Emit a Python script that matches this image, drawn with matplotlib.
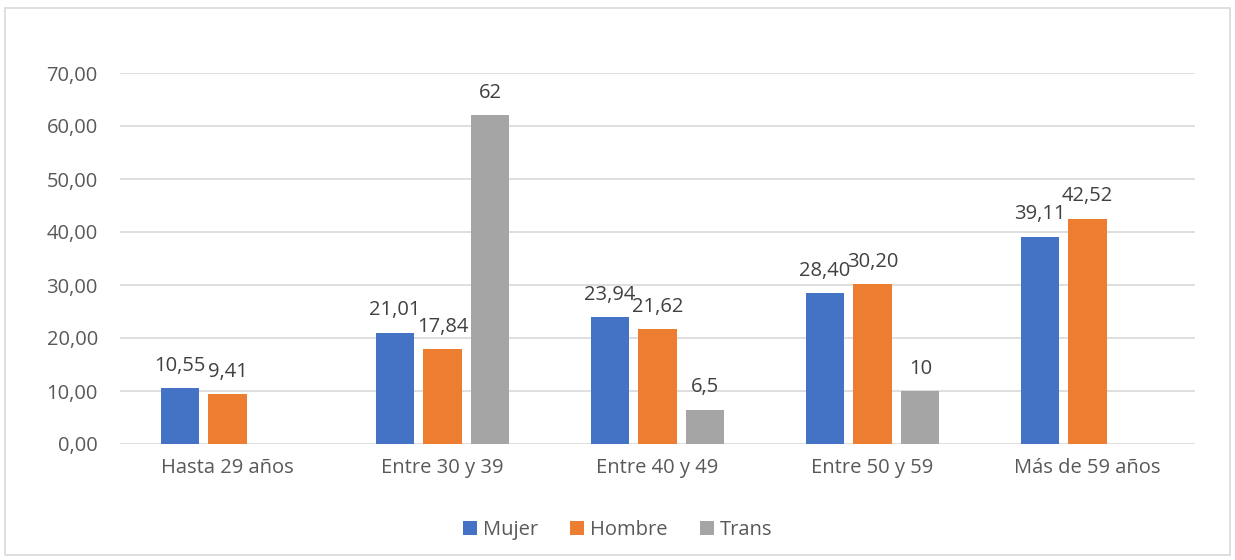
import matplotlib.pyplot as plt
import numpy as np
from matplotlib.patches import Rectangle

categorias = ['Hasta 29 años', 'Entre 30 y 39', 'Entre 40 y 49', 'Entre 50 y 59', 'Más de 59 años']
mujer = [10.55, 21.01, 23.94, 28.40, 39.11]
hombre = [9.41, 17.84, 21.62, 30.20, 42.52]
trans = [np.nan, 62, 6.5, 10, np.nan]
trans_etiquetas = ['', '62', '6,5', '10', '']
series = ['Mujer', 'Hombre', 'Trans']
colores = ['#4472C4', '#ED7D31', '#A5A5A5']

plt.rcParams['font.family'] = ['Open Sans', 'DejaVu Sans']
fs = 14.5

fig = plt.figure(figsize=(12.35, 5.6), dpi=100)
ax = fig.add_axes([120 / 1235, 1 - 444 / 560, 1075 / 1235, 371 / 560])

# borde del gráfico
fig.patches.append(Rectangle((5 / 1235, 1 - 555 / 560), 1225 / 1235, 547 / 560,
                             transform=fig.transFigure, fill=False,
                             edgecolor='#D9D9D9', linewidth=1.2))

x = np.arange(len(categorias))
paso = 0.223
ancho = 0.177
valores = [mujer, hombre, trans]
for i, (nombre, vals, col) in enumerate(zip(series, valores, colores)):
    pos = x + (i - 1) * paso
    ax.bar(pos, vals, ancho, color=col, label=nombre, zorder=3)
    for j, v in enumerate(vals):
        if np.isnan(v):
            continue
        if nombre == 'Trans':
            txt = trans_etiquetas[j]
        else:
            txt = ('%.2f' % v).replace('.', ',')
        ax.annotate(txt, (pos[j], v), xytext=(0, 12.5), textcoords='offset points',
                    ha='center', va='baseline', fontsize=fs, color='#404040')

ax.set_xlim(-0.5, len(categorias) - 0.5)
ax.set_ylim(0, 70)
ax.set_yticks(np.arange(0, 71, 10))
ax.set_yticklabels([('%.2f' % t).replace('.', ',') for t in np.arange(0, 71, 10)])
ax.set_xticks(x)
ax.set_xticklabels(categorias)
ax.tick_params(axis='both', length=0, labelsize=fs, colors='#595959')
ax.tick_params(axis='x', pad=10)
ax.tick_params(axis='y', pad=16)
ax.grid(axis='y', color='#D9D9D9', linewidth=1.2, zorder=0)
for s in ax.spines.values():
    s.set_visible(False)

fig.legend(loc='center', bbox_to_anchor=(0.5, 1 - 530 / 560), ncol=3, frameon=False,
           fontsize=fs, handlelength=0.7, handleheight=0.7, handletextpad=0.3,
           columnspacing=1.6, labelcolor='#595959')

fig.savefig('out.png', dpi=100)
